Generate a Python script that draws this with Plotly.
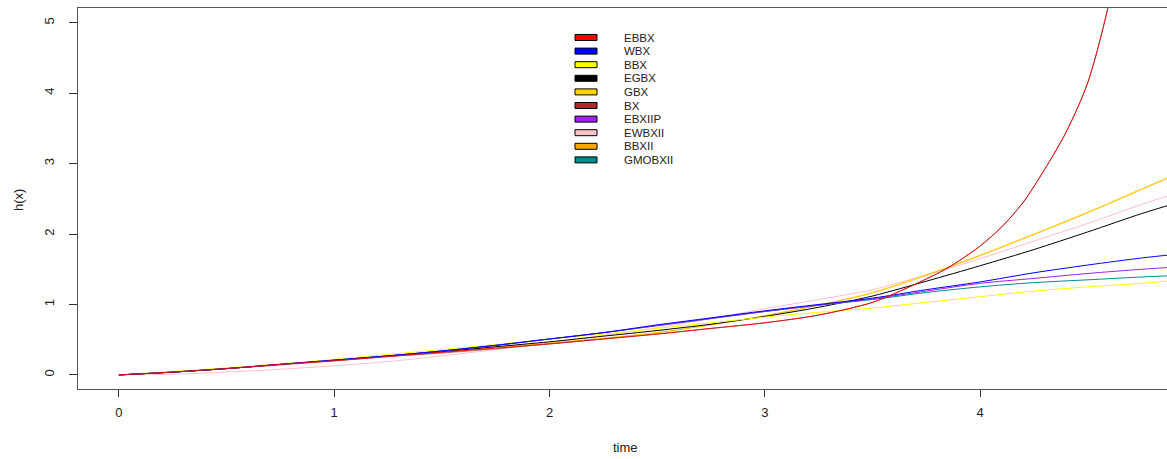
import plotly.graph_objects as go

# ---------------- data ----------------
series_names = ["EBBX", "WBX", "BBX", "EGBX", "GBX", "BX", "EBXIIP", "EWBXII", "BBXII", "GMOBXII"]
series_colors = ["#FF0000", "#0000FF", "#FFFF00", "#000000", "#FFD700", "#A52A2A",
                 "#A020F0", "#FFC0CB", "#FFA500", "#008B8B"]

time_grid = [0, 0.25, 0.5, 0.75, 1, 1.25, 1.5, 1.75, 2, 2.25, 2.5, 2.75, 3,
             3.25, 3.5, 3.75, 4, 4.25, 4.5, 4.75, 4.9]

# fast-growing curves sampled more finely
time_fast = [0, 0.25, 0.5, 0.75, 1, 1.25, 1.5, 1.75, 2, 2.25, 2.5, 2.75, 3,
             3.25, 3.5, 3.7, 3.85, 4.0, 4.1, 4.2, 4.3, 4.4, 4.5, 4.6, 4.7]

h_EBBX = [0, .04, .09, .15, .20, .26, .32, .38, .44, .51, .58, .66, .74,
          .85, 1.03, 1.29, 1.52, 1.83, 2.10, 2.45, 2.92, 3.45, 4.15, 5.30, 7.00]
h_BX = [0, .04, .09, .14, .20, .26, .31, .37, .44, .51, .58, .66, .74,
        .85, 1.03, 1.29, 1.52, 1.83, 2.10, 2.45, 2.92, 3.45, 4.15, 5.30, 7.00]

h_WBX = [0, .04, .09, .15, .21, .27, .34, .42, .51, .60, .71, .81, .91,
         1.00, 1.09, 1.21, 1.32, 1.45, 1.56, 1.66, 1.71]
h_BBX = [0, .05, .10, .16, .22, .29, .36, .43, .51, .58, .66, .74, .82,
         .89, .95, 1.03, 1.11, 1.19, 1.25, 1.30, 1.34]
h_EGBX = [0, .04, .09, .15, .21, .27, .33, .40, .47, .55, .63, .72, .83,
          .96, 1.12, 1.33, 1.55, 1.78, 2.03, 2.29, 2.43]
h_GBX = [0, .04, .09, .15, .21, .27, .33, .39, .45, .52, .60, .71, .84,
         .99, 1.17, 1.42, 1.70, 2.00, 2.31, 2.64, 2.84]
h_EBXIIP = [0, .04, .09, .15, .21, .27, .34, .42, .51, .60, .70, .80, .90,
            .99, 1.08, 1.19, 1.30, 1.37, 1.44, 1.50, 1.53]
h_EWBXII = [0, .01, .04, .08, .13, .19, .27, .36, .46, .56, .67, .80, .94,
            1.07, 1.21, 1.42, 1.65, 1.90, 2.15, 2.42, 2.57]
h_BBXII = [0, .04, .09, .15, .21, .27, .33, .39, .45, .52, .60, .71, .84,
           .99, 1.16, 1.41, 1.69, 1.99, 2.30, 2.63, 2.83]
h_GMOBXII = [0, .04, .09, .15, .21, .27, .34, .42, .51, .60, .70, .80, .90,
             .99, 1.07, 1.17, 1.25, 1.31, 1.35, 1.39, 1.41]

x_ticks = [0, 1, 2, 3, 4]
y_ticks = [0, 1, 2, 3, 4, 5]

series_x = {"EBBX": time_fast, "BX": time_fast}
series_y = {"EBBX": h_EBBX, "WBX": h_WBX, "BBX": h_BBX, "EGBX": h_EGBX, "GBX": h_GBX,
            "BX": h_BX, "EBXIIP": h_EBXIIP, "EWBXII": h_EWBXII, "BBXII": h_BBXII,
            "GMOBXII": h_GMOBXII}

# ---------------- figure ----------------
W, H = 1167, 459
L, R, T, B = 78, 0, 8, 70
FONT = "Liberation Sans, Arial, sans-serif"

fig = go.Figure()
draw_order = ["EWBXII", "GBX", "BBXII", "EGBX", "BBX", "GMOBXII", "EBXIIP", "WBX", "EBBX", "BX"]
line_opacity = {"BBXII": 0.55, "BX": 0.6}
for name in draw_order:
    i = series_names.index(name)
    fig.add_trace(go.Scatter(
        x=series_x.get(name, time_grid), y=series_y[name], mode="lines", name=name,
        line=dict(color=series_colors[i], width=1, shape="spline", smoothing=0.8),
        opacity=line_opacity.get(name, 1.0), showlegend=False,
        hoverinfo="x+y+name"))

axis_col = "#555555"
fig.update_layout(
    width=W, height=H, margin=dict(l=L, r=R, t=T, b=B),
    plot_bgcolor="white", paper_bgcolor="white",
    font=dict(family=FONT, size=13, color="#222222"),
    xaxis=dict(range=[-0.19, 4.868], tickvals=x_ticks, ticks="outside", ticklen=7,
               tickcolor="#333333", showgrid=False, zeroline=False, showline=True,
               linecolor=axis_col, linewidth=1, mirror=True,
               tickfont=dict(size=13), ticklabelstandoff=4),
    yaxis=dict(range=[-0.2, 5.209], tickvals=y_ticks, ticks="outside", ticklen=8,
               tickcolor="#333333", showgrid=False, zeroline=False, showline=True,
               linecolor=axis_col, linewidth=1, tickangle=-90,
               tickfont=dict(size=13), ticklabelstandoff=10),
)

pw, ph = W - L - R, H - T - B


def px2paper(px, py):
    return (px - L) / pw, (H - B - py) / ph


# axis titles
tx, ty = px2paper(625, 447)
fig.add_annotation(text="time", x=tx, y=ty, xref="paper", yref="paper",
                   xanchor="center", yanchor="middle",
                   showarrow=False, font=dict(size=13, color="#222222"))
tx, ty = px2paper(18, 200)
fig.add_annotation(text="h(x)", x=tx, y=ty, xref="paper", yref="paper",
                   xanchor="center", yanchor="middle",
                   showarrow=False, textangle=-90, font=dict(size=13, color="#222222"))

# R-style legend (filled boxes, no frame)
leg_top, leg_step = 37.5, 13.6
for k, name in enumerate(series_names):
    cy = leg_top + k * leg_step
    x0, y0 = px2paper(575, cy + 3)
    x1, y1 = px2paper(597, cy - 3)
    fig.add_shape(type="rect", xref="paper", yref="paper", x0=x0, y0=y0, x1=x1, y1=y1,
                  fillcolor=series_colors[k], line=dict(color="#000000", width=1))
    tx, ty = px2paper(622, cy)
    fig.add_annotation(text=name, x=tx, y=ty, xref="paper", yref="paper", xanchor="left",
                       yanchor="middle", showarrow=False,
                       font=dict(size=11.5, color="#222222"))

fig.write_html("out.html", config={"displayModeBar": False},
               post_script="document.body.style.margin='0';document.body.style.overflow='hidden';")
